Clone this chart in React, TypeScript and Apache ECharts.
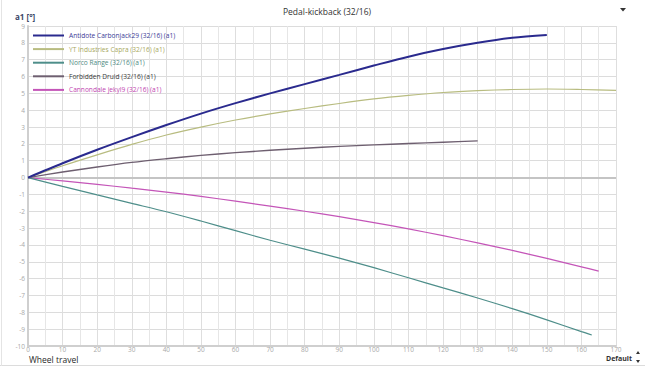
import React, { useEffect, useRef } from "react";
import * as echarts from "echarts";

const seriesNames = [
  "Antidote Carbonjack29 (32/16) (a1)",
  "YT Industries Capra (32/16) (a1)",
  "Norco Range (32/16) (a1)",
  "Forbidden Druid (32/16) (a1)",
  "Cannondale Jekyll9 (32/16) (a1)",
];
const legendLabels = [
  "Antidote Carbonjack29 (32/16) (a1)",
  "YT Industries Capra (32/16) (a1)",
  "Norco Range (32/16) (a1)",
  "Forbidden Druid (32/16) (a1)",
  "Cannondale jekyl9 (32/16) (a1)",
];
const lineColors = ["#2a2a8e", "#b8bc80", "#4e8e8a", "#6e5f70", "#c455b8"];
const textColors = ["#3a3a96", "#a8a860", "#4e8a82", "#3a3a3a", "#c044b0"];

const antidoteX = [0, 10, 20, 30, 40, 50, 60, 70, 80, 90, 100, 110, 120, 130, 140, 150];
const antidoteY = [0, 0.85, 1.65, 2.4, 3.12, 3.8, 4.42, 5.0, 5.55, 6.1, 6.65, 7.18, 7.63, 8.0, 8.3, 8.47];

const ytX = [0, 10, 20, 30, 40, 50, 60, 70, 80, 90, 100, 110, 120, 130, 140, 150, 160, 170];
const ytY = [0, 0.7, 1.35, 1.97, 2.53, 3.0, 3.42, 3.78, 4.1, 4.4, 4.67, 4.88, 5.05, 5.16, 5.23, 5.26, 5.23, 5.18];

const norcoX = [0, 10, 20, 30, 40, 50, 60, 70, 80, 90, 100, 110, 120, 130, 140, 150, 160, 163];
const norcoY = [0, -0.52, -1.03, -1.53, -2.03, -2.58, -3.15, -3.72, -4.25, -4.78, -5.35, -5.95, -6.55, -7.15, -7.78, -8.45, -9.15, -9.35];

const druidX = [0, 10, 20, 30, 40, 50, 60, 70, 80, 90, 100, 110, 120, 130];
const druidY = [0, 0.33, 0.63, 0.9, 1.12, 1.32, 1.48, 1.62, 1.74, 1.85, 1.94, 2.02, 2.1, 2.18];

const jekyllX = [0, 10, 20, 30, 40, 50, 60, 70, 80, 90, 100, 110, 120, 130, 140, 150, 160, 165];
const jekyllY = [0, -0.2, -0.4, -0.63, -0.86, -1.12, -1.4, -1.7, -2.0, -2.32, -2.67, -3.05, -3.45, -3.88, -4.32, -4.8, -5.3, -5.55];

const xsList = [antidoteX, ytX, norcoX, druidX, jekyllX];
const ysList = [antidoteY, ytY, norcoY, druidY, jekyllY];
const lineWidths = [2, 1.2, 1.2, 1.4, 1.2];

const FONT = "'Open Sans', 'Noto Sans', sans-serif";

export default function App() {
  const ref = useRef<HTMLDivElement>(null);
  useEffect(() => {
    if (!ref.current) return;
    const chart = echarts.init(ref.current, undefined, { renderer: "svg" });
    const series: any[] = seriesNames.map((name, i) => ({
      name,
      type: "line",
      data: xsList[i].map((x, j) => [x, ysList[i][j]]),
      smooth: 0.3,
      showSymbol: false,
      symbol: "none",
      lineStyle: { color: lineColors[i], width: lineWidths[i] },
      itemStyle: { color: lineColors[i] },
      z: 3 + (5 - i),
    }));
    series[0].markLine = {
      silent: true,
      symbol: "none",
      label: { show: false },
      lineStyle: { color: "#c4c4c4", width: 2, type: "solid" },
      data: [{ yAxis: 0 }],
      z: 1,
    };
    chart.setOption({
      animation: false,
      backgroundColor: "#ffffff",
      textStyle: { fontFamily: FONT },
      title: {
        text: "Pedal-kickback (32/16)",
        left: 322,
        textAlign: "center",
        top: 2,
        textStyle: { fontSize: 8.5, fontWeight: "normal", color: "#333", fontFamily: FONT },
      },
      grid: { left: 28, right: 29, top: 26, bottom: 20, containLabel: false },
      legend: {
        orient: "vertical",
        left: 28,
        top: 27,
        itemWidth: 31,
        itemHeight: 8,
        itemGap: 6.6,
        icon: "path://M0,0 L31,0 L31,2 L0,2 Z",
        data: seriesNames.map((n, i) => ({
          name: n,
          textStyle: { color: textColors[i] },
        })),
        formatter: (name: string) => legendLabels[seriesNames.indexOf(name)],
        textStyle: { fontSize: 6.6, fontFamily: FONT },
        selectedMode: false,
      },
      xAxis: {
        type: "value",
        min: 0,
        max: 170,
        interval: 10,
        axisLine: { show: true, onZero: false, lineStyle: { color: "#cfcfcf", width: 2 } },
        axisTick: { show: false },
        axisLabel: { fontSize: 6.5, color: "#a8a8a8", margin: 0, fontFamily: FONT },
        splitLine: { show: true, lineStyle: { color: "#dedede", width: 1 } },
        minorTick: { show: false, splitNumber: 2 },
        minorSplitLine: { show: true, lineStyle: { color: "#e6e6e6", width: 1 } },
      },
      yAxis: {
        type: "value",
        min: -10,
        max: 9,
        interval: 1,
        axisLine: { show: true, lineStyle: { color: "#cfcfcf", width: 2 } },
        axisTick: { show: false },
        axisLabel: { fontSize: 6.5, color: "#a8a8a8", margin: 3, fontFamily: FONT },
        splitLine: { show: true, lineStyle: { color: "#dcdcdc", width: 1 } },
      },
      graphic: [
        {
          type: "text",
          left: 15,
          top: 12,
          style: { text: "a1 [°]", fontSize: 8, fontWeight: "bold", fill: "#3c4868", fontFamily: FONT },
        },
        {
          type: "text",
          left: 29,
          top: 354.5,
          style: { text: "Wheel travel", fontSize: 8.5, fill: "#2a2a2a", fontFamily: FONT },
        },
        {
          type: "text",
          left: 606,
          top: 355,
          style: { text: "Default", fontSize: 7, fontWeight: "bold", fill: "#333", fontFamily: FONT },
        },
        {
          type: "polygon",
          shape: { points: [[636, 354], [640, 354], [638, 351]] },
          style: { fill: "#333" },
        },
        {
          type: "polygon",
          shape: { points: [[636, 360], [640, 360], [638, 363]] },
          style: { fill: "#333" },
        },
        {
          type: "polygon",
          shape: { points: [[620, 8], [626, 8], [623, 11.5]] },
          style: { fill: "#333" },
        },
        {
          type: "line",
          shape: { x1: 0, y1: 365.5, x2: 645, y2: 365.5 },
          style: { stroke: "#dcdcdc", lineWidth: 1 },
        },
        {
          type: "line",
          shape: { x1: 1.5, y1: 0, x2: 1.5, y2: 366 },
          style: { stroke: "#e4e4e4", lineWidth: 1 },
        },
      ],
      series,
    });
    return () => chart.dispose();
  }, []);
  return <div ref={ref} style={{ width: 645, height: 366, position: "fixed", left: 0, top: 0 }} />;
}
